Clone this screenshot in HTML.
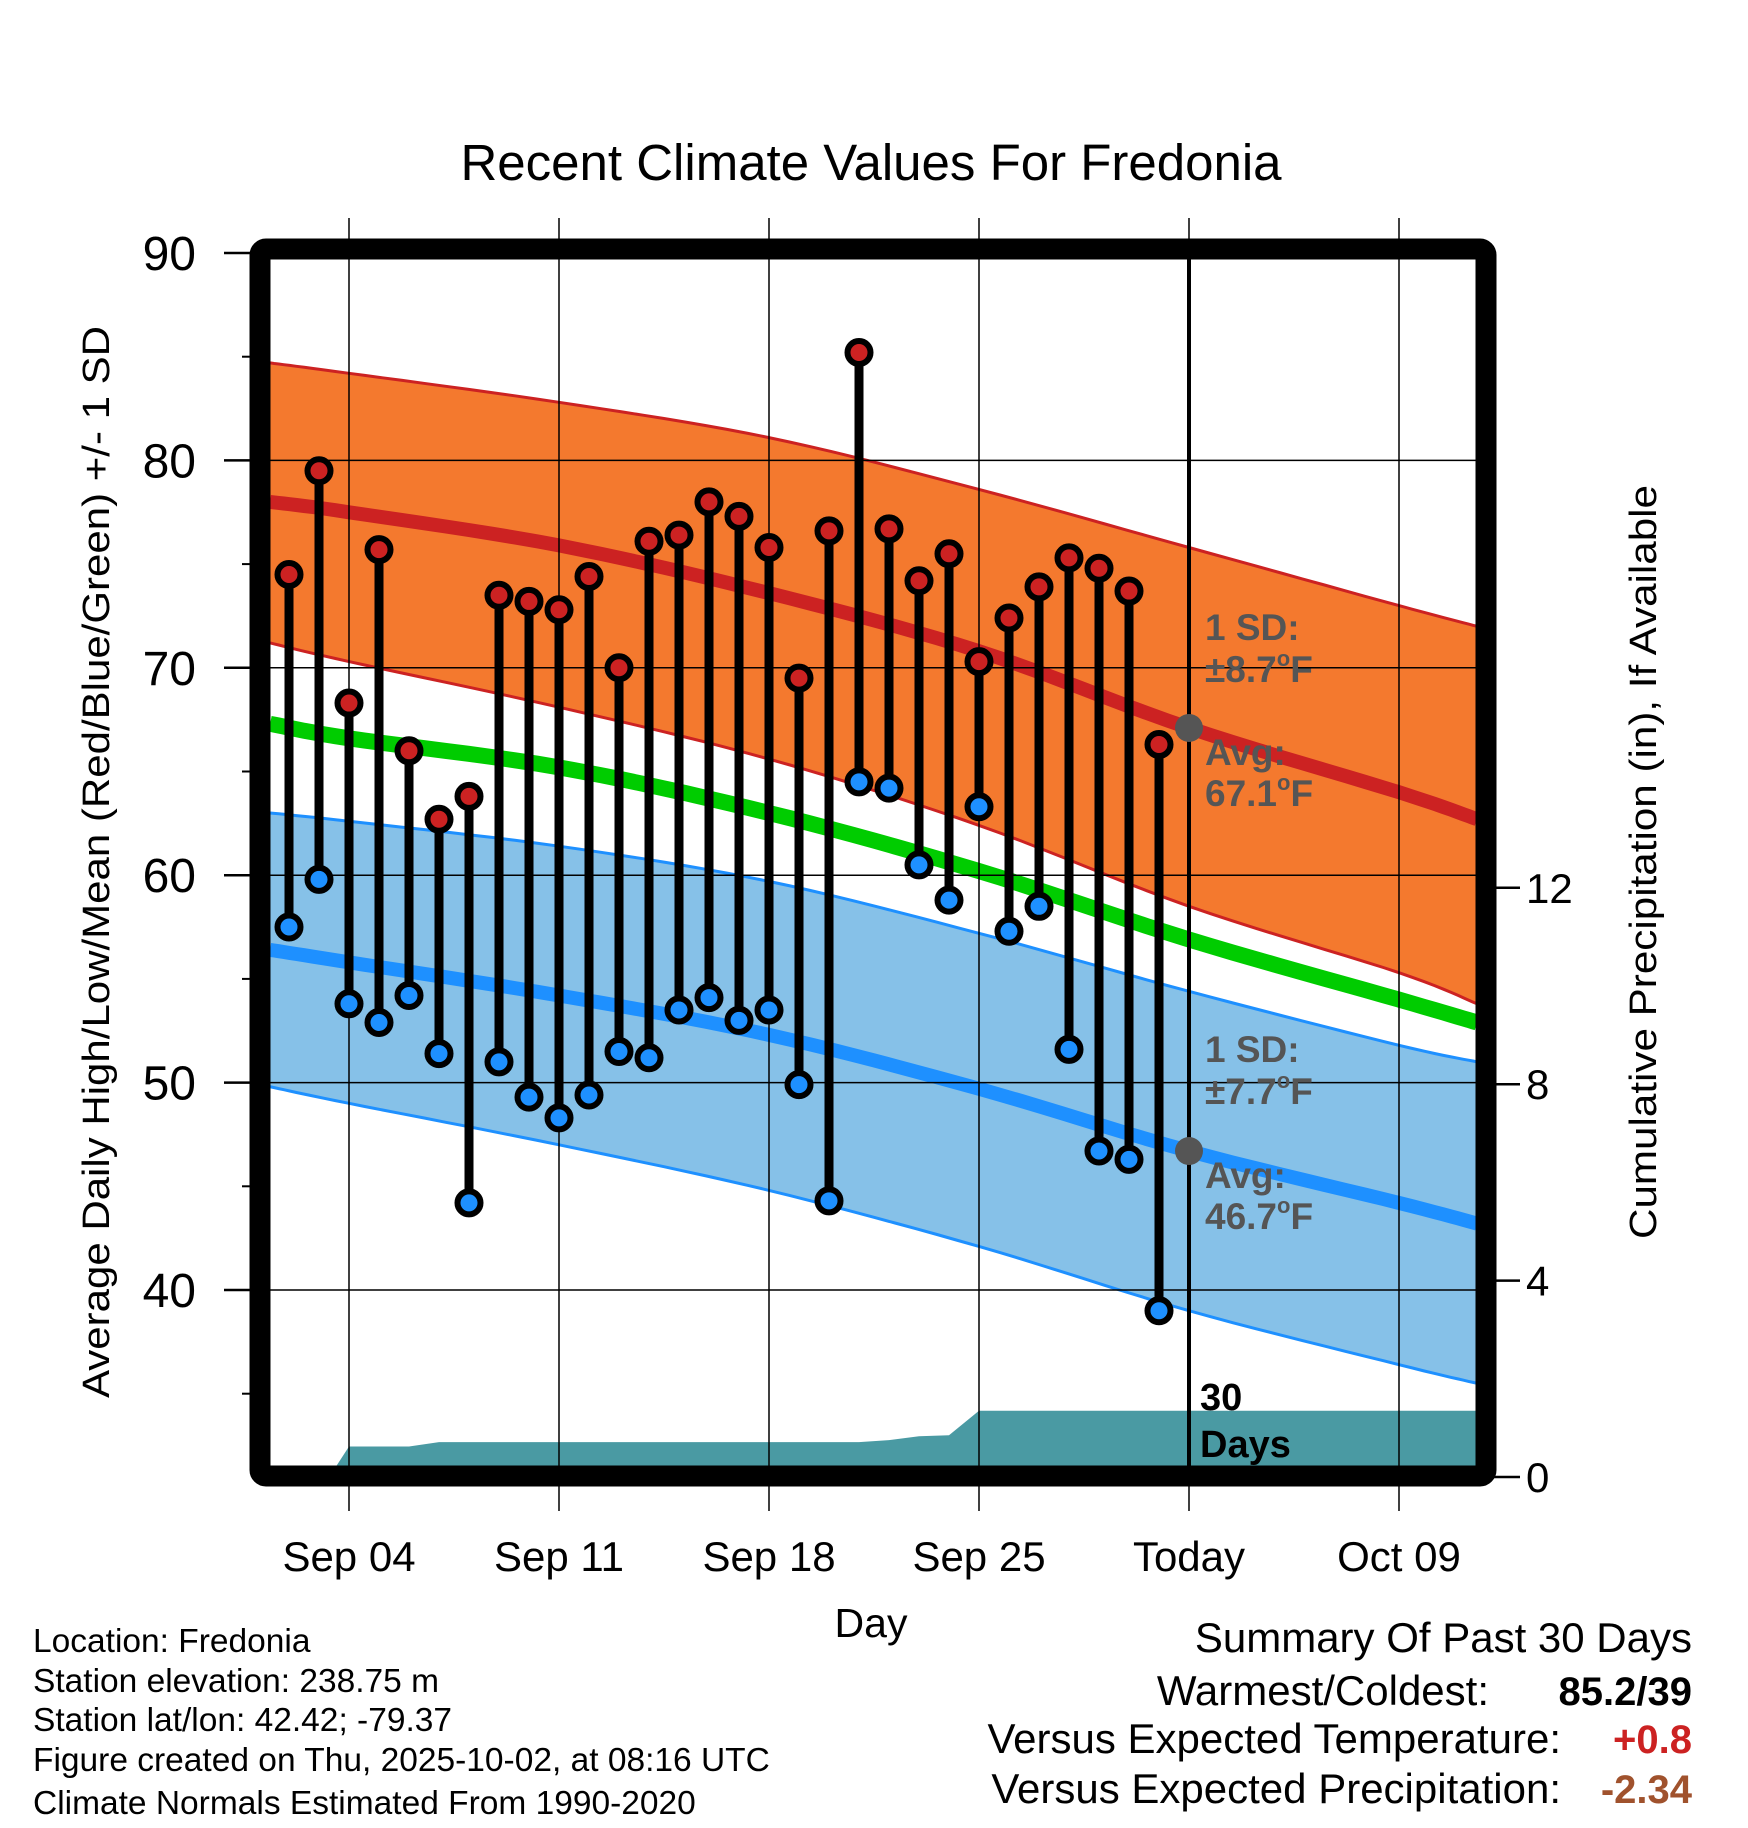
<!DOCTYPE html>
<html><head><meta charset="utf-8"><style>
html,body{margin:0;padding:0;background:#fff}
svg{display:block;font-family:"Liberation Sans",sans-serif}
</style></head><body>
<svg id="chart" width="1748" height="1828" viewBox="0 0 1748 1828" xmlns="http://www.w3.org/2000/svg">
<defs><clipPath id="plotclip"><rect x="270" y="259" width="1207" height="1209"/></clipPath></defs>
<g id="fills" clip-path="url(#plotclip)"></g>
<g id="grid"></g>
<g id="marks"></g>
<g id="frame"></g>
<g id="labels"></g>
</svg>
<script>
// ---- data ----
const normT = [0.37, 3, 10, 17, 24, 31, 38, 40.6];
const hiUpper = [84.7, 84.2, 82.8, 81.1, 78.6, 75.8, 73.0, 72.0];
const hiAvg = [78.0, 77.5, 75.9, 73.6, 70.8, 67.1, 64.0, 62.7];
const hiLower = [71.2, 70.3, 68.1, 65.6, 62.4, 58.5, 55.3, 53.8];
const meanAvg = [67.3, 66.6, 65.2, 63.0, 60.2, 56.9, 54.0, 52.9];
const loUpper = [63.0, 62.6, 61.4, 59.7, 57.2, 54.4, 51.8, 51.0];
const loAvg = [56.4, 55.8, 54.2, 52.3, 49.7, 46.7, 44.2, 43.2];
const loLower = [49.8, 49.0, 47.0, 44.8, 42.1, 39.0, 36.4, 35.5];
const highs = [74.5,79.5,68.3,75.7,66.0,62.7,63.8,73.5,73.2,72.8,74.4,70.0,76.1,76.4,78.0,77.3,75.8,69.5,76.6,85.2,76.7,74.2,75.5,70.3,72.4,73.9,75.3,74.8,73.7,66.3];
const lows = [57.5,59.8,53.8,52.9,54.2,51.4,44.2,51.0,49.3,48.3,49.4,51.5,51.2,53.5,54.1,53.0,53.5,49.9,44.3,64.5,64.2,60.5,58.8,63.3,57.3,58.5,51.6,46.7,46.3,39.0];
const precipT = [2.34, 3, 5, 6, 20, 21, 22, 23, 24, 40.6];
const precipV = [0, 0.62, 0.62, 0.71, 0.71, 0.75, 0.83, 0.85, 1.35, 1.35];
const xTickT = [3, 10, 17, 24, 31, 38];
const xTickLabels = ["Sep 04","Sep 11","Sep 18","Sep 25","Today","Oct 09"];
const yTicks = [40, 50, 60, 70, 80, 90];
const yMinor = [35, 45, 55, 65, 75, 85];
const pTicks = [0, 4, 8, 12];
const todayT = 31, firstT = 1;

// ---- axes ----
const X = t => 349 + (t - 3) * 30;
const Y = v => 253 + (90 - v) * 20.74;
const P = v => 1477 - v * 49.1;
const NS = "http://www.w3.org/2000/svg";
function mk(tag, attrs, parent, txt){const e=document.createElementNS(NS,tag);for(const k in attrs)e.setAttribute(k,attrs[k]);if(txt!==undefined)e.textContent=txt;parent.appendChild(e);return e;}
const fills=document.getElementById('fills'),grid=document.getElementById('grid'),marks=document.getElementById('marks'),frame=document.getElementById('frame'),labels=document.getElementById('labels');
// smooth curve (Catmull-Rom) sampled as points
function smoothPts(arr){
  const p = normT.map((t,i)=>[X(t),Y(arr[i])]);
  const out=[];
  for(let i=0;i<p.length-1;i++){
    const p0=p[Math.max(0,i-1)],p1=p[i],p2=p[i+1],p3=p[Math.min(p.length-1,i+2)];
    for(let s=0;s<10;s++){const u=s/10,u2=u*u,u3=u2*u;
      const f=(a,b,c,d)=>0.5*((2*b)+(-a+c)*u+(2*a-5*b+4*c-d)*u2+(-a+3*b-3*c+d)*u3);
      out.push([f(p0[0],p1[0],p2[0],p3[0]),f(p0[1],p1[1],p2[1],p3[1])]);}
  }
  out.push(p[p.length-1]);
  return out;
}
const line = arr => smoothPts(arr).map(q=>q[0].toFixed(1)+','+q[1].toFixed(1)).join(' ');
const band = (up,lo) => smoothPts(up).concat(smoothPts(lo).reverse()).map(q=>q[0].toFixed(1)+','+q[1].toFixed(1)).join(' ');

let e;
e=mk('polygon',{points:band(hiUpper,hiLower),fill:'#f4792e'},fills);

e=mk('polygon',{points:band(loUpper,loLower),fill:'#86c1e8'},fills);

[[hiUpper,'#cc2222',3,'high-upper-line'],[hiLower,'#cc2222',3,'high-lower-line'],[loUpper,'#1e90ff',3,'low-upper-line'],[loLower,'#1e90ff',3,'low-lower-line'],[hiAvg,'#cc2222',14,'high-avg-line'],[meanAvg,'#00cc00',16,'mean-avg-line'],[loAvg,'#1e90ff',14,'low-avg-line']].forEach(a=>{
  e=mk('polyline',{points:line(a[0]),fill:'none',stroke:a[1],'stroke-width':a[2]},fills);
  
  
});
// precip
let pp = precipT.map((t,i)=>X(t)+','+P(precipV[i])).join(' ');
pp += ' '+X(precipT[precipT.length-1])+','+P(0)+' '+X(precipT[0])+','+P(0);
e=mk('polygon',{points:pp,fill:'#4a9aa3'},fills);


// grid
yTicks.forEach(v=>{
  e=mk('line',{x1:270,x2:1477,y1:Y(v),y2:Y(v),stroke:'#000','stroke-width':1.5},grid);
  
  e=mk('line',{x1:224,x2:255,y1:Y(v),y2:Y(v),stroke:'#000','stroke-width':2.5},grid);
  
  e=mk('text',{x:196,y:Y(v)+17,'text-anchor':'end','font-size':48},labels,String(v));
  
});
yMinor.forEach(v=>{
  e=mk('line',{x1:242,x2:255,y1:Y(v),y2:Y(v),stroke:'#000','stroke-width':2},grid);
  
});
pTicks.forEach(v=>{
  e=mk('line',{x1:1494,x2:1520,y1:P(v),y2:P(v),stroke:'#000','stroke-width':2.5},grid);
  
  e=mk('text',{x:1526,y:P(v)+15,'font-size':42},labels,String(v));
  
});
xTickT.forEach((t,i)=>{
  e=mk('line',{x1:X(t),x2:X(t),y1:218,y2:1511,stroke:'#000','stroke-width':1.5},grid);
  
  e=mk('text',{x:X(t),y:1571,'text-anchor':'middle','font-size':42},labels,xTickLabels[i]);
  
});
// today line
e=mk('line',{x1:X(todayT),x2:X(todayT),y1:255,y2:1470,stroke:'#000','stroke-width':4},marks);


// stems
highs.forEach((h,i)=>{
  const x=X(firstT+i);
  e=mk('line',{x1:x,x2:x,y1:Y(h),y2:Y(lows[i]),stroke:'#000','stroke-width':9},marks);
  
});
highs.forEach((h,i)=>{
  const x=X(firstT+i);
  e=mk('circle',{cx:x,cy:Y(h),r:11.5,fill:'#cc2222',stroke:'#000','stroke-width':6},marks);
  
  e=mk('circle',{cx:x,cy:Y(lows[i]),r:11.5,fill:'#1e90ff',stroke:'#000','stroke-width':6},marks);
  
});
e=mk('circle',{cx:X(todayT),cy:Y(hiAvg[5]),r:14,fill:'#555'},marks);

e=mk('circle',{cx:X(todayT),cy:Y(loAvg[5]),r:14,fill:'#555'},marks);


// frame
e=mk('rect',{x:260,y:249,width:1226,height:1227,fill:'none',stroke:'#000','stroke-width':21,rx:6},frame);


// annotations
function deg(txtA, num, y, name){
  const t=mk('text',{x:1205,y:y,'font-size':37,'font-weight':'bold',fill:'#555'},labels);
  
  
  mk('tspan',{},t,txtA+num);
  mk('tspan',{'font-size':22,dy:-16},t,'o');
  mk('tspan',{dy:16},t,'F');
}
[['1 SD:',640,'high-sd-label'],['Avg:',765,'high-avg-label'],['1 SD:',1062,'low-sd-label'],['Avg:',1188,'low-avg-label']].forEach(a=>{
  e=mk('text',{x:1205,y:a[1],'font-size':37,'font-weight':'bold',fill:'#555'},labels,a[0]);
  
});
deg('±','8.7',682,'high-sd-value');
deg('','67.1',806,'high-avg-value');
deg('±','7.7',1104,'low-sd-value');
deg('','46.7',1229,'low-avg-value');
e=mk('text',{x:1200,y:1410,'font-size':38,'font-weight':'bold'},labels,'30');

e=mk('text',{x:1200,y:1457,'font-size':38,'font-weight':'bold'},labels,'Days');

</script>
<script>
const L=document.getElementById('labels');
function T(attrs,txt,name){const e=document.createElementNS("http://www.w3.org/2000/svg",'text');for(const k in attrs)e.setAttribute(k,attrs[k]);e.textContent=txt;


L.appendChild(e);return e;}
T({x:871,y:180,'text-anchor':'middle','font-size':51},'Recent Climate Values For Fredonia','chart-title');
T({x:871,y:1637,'text-anchor':'middle','font-size':41},'Day','x-axis-title');
T({x:0,y:0,'text-anchor':'middle','font-size':38,textLength:1072,lengthAdjust:'spacingAndGlyphs',transform:'translate(109,862) rotate(-90)'},'Average Daily High/Low/Mean (Red/Blue/Green) +/- 1 SD','y-axis-title');
T({x:0,y:0,'text-anchor':'middle','font-size':38,textLength:754,lengthAdjust:'spacingAndGlyphs',transform:'translate(1656,862) rotate(-90)'},'Cumulative Precipitation (in), If Available','y2-axis-title');
const info=['Location: Fredonia','Station elevation: 238.75 m','Station lat/lon: 42.42; -79.37','Figure created on Thu, 2025-10-02, at 08:16 UTC','Climate Normals Estimated From 1990-2020'];
const infoY=[1652,1692,1731,1771,1814];
info.forEach((s,i)=>T({x:33,y:infoY[i],'font-size':33.5},s,'station-info-line'));
T({x:1692,y:1652,'text-anchor':'end','font-size':42},'Summary Of Past 30 Days','summary-title');
T({x:1489,y:1705,'text-anchor':'end','font-size':42},'Warmest/Coldest:','warmest-coldest-label');
T({x:1692,y:1705,'text-anchor':'end','font-size':40,'font-weight':'bold'},'85.2/39','warmest-coldest-value');
T({x:1561,y:1753,'text-anchor':'end','font-size':42},'Versus Expected Temperature:','temp-anomaly-label');
T({x:1692,y:1753,'text-anchor':'end','font-size':40,'font-weight':'bold',fill:'#cc2222'},'+0.8','temp-anomaly-value');
T({x:1561,y:1803,'text-anchor':'end','font-size':42},'Versus Expected Precipitation:','precip-anomaly-label');
T({x:1692,y:1803,'text-anchor':'end','font-size':40,'font-weight':'bold',fill:'#a0522d'},'-2.34','precip-anomaly-value');
</script>
</body></html>
